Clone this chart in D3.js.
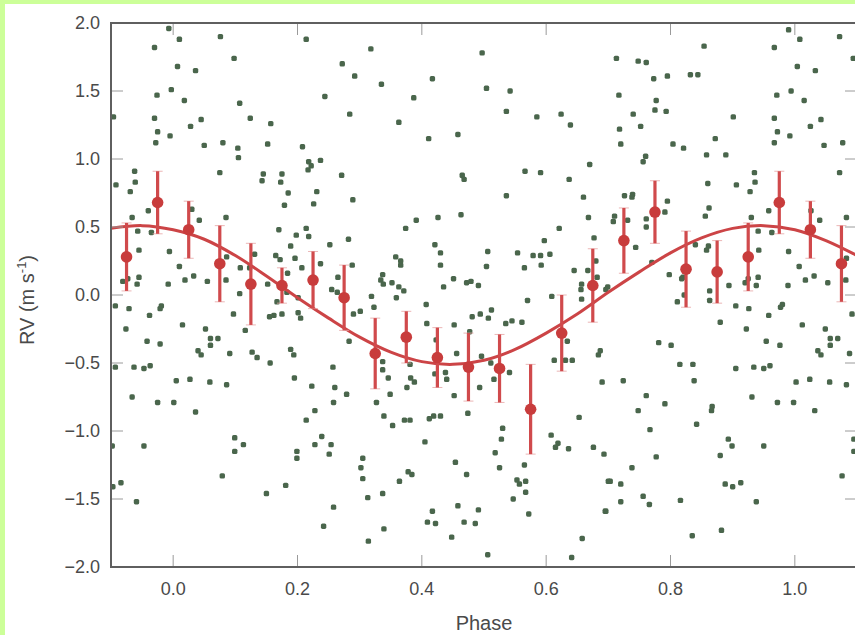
<!DOCTYPE html>
<html>
<head>
<meta charset="utf-8">
<script src="https://cdn.jsdelivr.net/npm/d3@7"></script>
<style>
  body { margin: 0; padding: 0; background: #ccff99; }
</style>
</head>
<body>
<div id="chart"></div>
<script>
var width = 855;
var height = 635;

// raw velocities, [phase, rv]
var rawPoints = [
  [-0.007,1.96],[0.010,1.88],[0.076,1.90],[-0.030,1.82],[0.098,1.74],[0.007,1.68],[0.036,1.65],[0.214,1.88],[0.272,1.70],[0.292,1.61],
  [-0.026,1.47],[-0.003,1.51],[0.018,1.43],[0.107,1.41],[0.244,1.46],[0.284,1.33],[-0.096,1.31],[-0.030,1.30],[0.045,1.29],[0.124,1.30],
  [0.157,1.26],[-0.025,1.20],[-0.005,1.17],[0.028,1.24],[-0.028,1.12],[0.050,1.10],[0.080,1.12],[0.104,1.08],[0.152,1.11],[0.208,1.09],
  [0.105,1.01],[0.218,0.98],[0.222,0.95],[0.237,0.99],[0.217,0.92],[-0.062,0.91],[0.075,0.90],[0.145,0.89],[0.175,0.89],[0.143,0.84],
  [0.173,0.83],[0.271,0.88],[-0.092,0.81],[-0.061,0.83],[-0.069,0.76],[0.185,0.75],[0.231,0.76],[0.289,0.70],[0.179,0.66],[0.226,0.67],
  [-0.040,0.62],[0.030,0.63],[-0.066,0.57],[0.085,0.57],[0.042,0.55],[0.170,0.48],[0.214,0.49],[-0.057,0.47],[-0.035,0.46],[0.198,0.44],
  [0.218,0.43],[0.252,0.37],[0.282,0.41],[0.189,0.36],[-0.055,0.33],[-0.006,0.32],[0.086,0.28],[0.131,0.30],[0.165,0.29],[0.172,0.26],
  [0.196,0.27],[0.237,0.23],[0.010,0.21],[0.108,0.20],[0.123,0.20],[0.207,0.20],[0.288,0.22],[-0.073,0.12],[-0.081,0.10],[-0.055,0.13],
  [-0.058,0.08],[-0.008,0.08],[0.019,0.11],[0.033,0.14],[0.055,0.10],[0.085,0.11],[0.152,0.08],[0.184,0.16],[0.265,0.13],[0.255,0.04],
  [0.264,0.02],[0.183,0.02],
  [0.318,1.81],[0.497,1.78],[0.335,1.55],[0.417,1.59],[0.504,1.52],[0.542,1.50],[0.387,1.45],[0.536,1.35],[0.585,1.31],[0.624,1.33],
  [0.639,1.25],[0.363,1.27],[0.411,1.15],[0.458,1.18],[0.670,0.96],[0.566,0.91],[0.591,0.90],[0.465,0.88],[0.468,0.85],[0.637,0.85],
  [0.536,0.73],[0.660,0.72],[0.391,0.55],[0.426,0.57],[0.463,0.59],[0.374,0.49],[0.668,0.57],[0.621,0.49],[0.677,0.42],[0.597,0.40],
  [0.421,0.37],[0.430,0.31],[0.506,0.32],[0.554,0.31],[0.579,0.29],[0.591,0.29],[0.606,0.30],[0.358,0.28],[0.366,0.25],[0.366,0.22],
  [0.430,0.22],[0.504,0.21],[0.565,0.20],[0.592,0.22],[0.645,0.18],[0.667,0.18],[0.680,0.25],[0.682,0.13],[0.337,0.15],[0.334,0.11],
  [0.338,0.08],[0.352,0.09],[0.363,0.06],[0.371,0.03],[0.435,0.06],[0.451,0.12],[0.472,0.09],[0.479,0.10],[0.491,0.07],[0.657,0.08],
  [0.656,0.04],
  [0.990,1.95],[1.008,1.88],[1.072,1.90],[0.854,1.83],[0.967,1.82],[1.094,1.74],[0.713,1.74],[0.748,1.72],[0.761,1.71],[1.004,1.68],
  [1.033,1.65],[0.773,1.59],[0.795,1.61],[0.832,1.62],[0.844,1.62],[0.717,1.47],[0.777,1.43],[0.971,1.47],[0.994,1.50],[1.015,1.43],
  [0.740,1.33],[0.775,1.36],[0.793,1.35],[0.901,1.31],[0.967,1.30],[1.042,1.29],[0.718,1.22],[0.752,1.24],[0.972,1.20],[0.992,1.17],
  [1.025,1.24],[0.872,1.15],[0.720,1.11],[0.804,1.11],[0.821,1.08],[0.967,1.12],[1.047,1.10],[1.077,1.12],[0.858,1.03],[0.889,1.03],
  [0.760,1.02],[0.756,0.98],[0.935,0.90],[1.072,0.90],[0.936,0.83],[0.860,0.82],[0.906,0.81],[0.928,0.76],[0.726,0.73],[0.739,0.74],
  [0.738,0.72],[0.795,0.69],[0.862,0.64],[0.710,0.58],[0.708,0.54],[0.731,0.55],[0.761,0.56],[0.761,0.50],[0.791,0.61],[0.856,0.58],
  [0.930,0.57],[0.958,0.62],[1.040,0.55],[1.083,0.57],[1.026,0.62],[0.941,0.47],[0.963,0.46],[0.744,0.35],[0.840,0.37],[0.858,0.33],
  [0.861,0.36],[0.942,0.33],[0.990,0.32],[0.770,0.24],[0.798,0.15],[0.820,0.13],[0.818,0.12],[1.007,0.21],[1.083,0.27],[1.031,0.14],
  [1.017,0.11],[1.053,0.09],[1.082,0.11],[0.894,0.07],[0.925,0.12],[0.941,0.13],[0.920,0.09],[0.938,0.07],[0.989,0.07],[0.863,0.03],
  [0.699,0.06],[0.696,0.04],
  [-0.093,-0.08],[-0.071,-0.10],[-0.038,-0.15],[-0.019,-0.08],[-0.021,-0.10],[-0.076,-0.25],[0.015,-0.22],[0.052,-0.25],[-0.042,-0.34],[-0.021,-0.36],
  [0.060,-0.32],[0.072,-0.32],[0.060,-0.37],[0.097,-0.14],[0.107,0.01],[0.116,-0.26],[0.040,-0.41],[0.045,-0.44],[0.091,-0.43],[0.127,-0.42],
  [0.135,-0.46],[0.156,-0.50],[0.155,-0.16],[0.162,-0.15],[0.175,-0.14],[0.167,-0.05],[0.201,-0.13],[0.205,-0.17],[0.201,-0.02],[0.189,-0.40],
  [0.194,-0.44],[0.290,-0.14],[0.283,-0.34],[-0.093,-0.53],[-0.063,-0.53],[-0.047,-0.54],[-0.037,-0.52],[0.195,-0.61],[0.257,-0.53],[0.005,-0.63],
  [0.027,-0.62],[0.059,-0.64],[0.086,-0.66],[0.223,-0.67],[0.260,-0.68],[0.279,-0.73],[-0.066,-0.75],[-0.025,-0.79],[0.001,-0.79],[0.036,-0.86],
  [0.258,-0.79],[0.228,-0.85],[0.214,-0.92],[-0.098,-1.11],[-0.047,-1.11],[0.099,-1.05],[0.113,-1.10],[0.099,-1.15],[0.239,-1.04],[0.228,-1.10],
  [0.254,-1.10],[0.251,-1.17],[0.199,-1.15],[0.199,-1.20],[0.079,-1.33],[-0.084,-1.38],[-0.097,-1.41],[-0.059,-1.52],[0.150,-1.46],[0.181,-1.40],
  [0.258,-1.56],[0.242,-1.70],
  [0.319,-0.01],[0.323,-0.09],[0.359,-0.02],[0.301,-0.12],[0.407,-0.07],[0.408,-0.21],[0.452,-0.22],[0.481,-0.16],[0.494,-0.14],[0.507,-0.17],
  [0.512,-0.11],[0.535,-0.21],[0.545,-0.19],[0.561,-0.20],[0.570,-0.04],[0.609,-0.01],[0.657,-0.03],[0.477,-0.27],[0.423,-0.33],[0.456,-0.43],
  [0.496,-0.45],[0.511,-0.50],[0.516,-0.62],[0.541,-0.57],[0.337,-0.49],[0.337,-0.55],[0.346,-0.61],[0.381,-0.51],[0.382,-0.61],[0.388,-0.64],
  [0.376,-0.68],[0.421,-0.58],[0.438,-0.57],[0.440,-0.62],[0.493,-0.68],[0.452,-0.74],[0.327,-0.79],[0.349,-0.73],[0.474,-0.87],[0.339,-0.89],
  [0.372,-0.92],[0.381,-0.92],[0.353,-0.96],[0.412,-0.91],[0.419,-0.89],[0.430,-0.89],[0.405,-1.08],[0.530,-0.98],[0.528,-1.06],[0.518,-1.16],
  [0.525,-1.27],[0.613,-0.48],[0.631,-0.48],[0.642,-0.48],[0.634,-0.34],[0.684,-0.44],[0.687,-0.41],[0.690,-0.64],[0.653,-0.90],[0.608,-1.03],
  [0.619,-1.09],[0.615,-1.12],[0.636,-1.13],[0.676,-1.12],[0.693,-1.17],[0.305,-1.20],[0.302,-1.27],[0.305,-1.35],[0.313,-1.49],[0.337,-1.46],
  [0.364,-1.37],[0.378,-1.30],[0.384,-1.32],[0.454,-1.23],[0.472,-1.32],[0.565,-1.25],[0.553,-1.36],[0.557,-1.39],[0.567,-1.37],[0.567,-1.45],
  [0.547,-1.50],[0.572,-1.61],[0.458,-1.55],[0.491,-1.58],[0.417,-1.59],[0.409,-1.67],[0.422,-1.68],[0.468,-1.67],[0.486,-1.68],[0.339,-1.72],
  [0.314,-1.81],[0.448,-1.78],[0.506,-1.91],[0.641,-1.93],[0.658,-1.79],[0.700,-1.37],[0.695,-1.59],
  [0.811,-0.05],[0.822,-0.00],[0.863,-0.04],[0.905,-0.08],[0.926,-0.10],[0.958,-0.15],[0.977,-0.09],[0.980,-0.07],[0.880,-0.20],[0.922,-0.25],
  [1.012,-0.22],[1.049,-0.25],[1.057,-0.32],[1.069,-0.32],[1.057,-0.37],[1.092,-0.14],[0.781,-0.35],[0.801,-0.37],[0.954,-0.34],[0.976,-0.37],
  [1.037,-0.41],[1.042,-0.44],[1.088,-0.43],[0.815,-0.51],[0.836,-0.51],[0.905,-0.54],[0.934,-0.53],[0.950,-0.54],[0.960,-0.52],[0.724,-0.63],
  [0.838,-0.63],[1.002,-0.64],[1.024,-0.62],[1.056,-0.64],[1.083,-0.66],[0.761,-0.74],[0.791,-0.80],[0.748,-0.85],[0.867,-0.82],[0.866,-0.85],
  [0.931,-0.75],[0.972,-0.79],[0.998,-0.79],[1.032,-0.85],[0.767,-0.99],[0.842,-0.95],[0.893,-1.06],[0.899,-1.11],[0.950,-1.11],[0.880,-1.18],
  [0.777,-1.19],[0.738,-1.27],[0.703,-1.37],[0.720,-1.39],[0.888,-1.39],[0.900,-1.41],[0.913,-1.38],[0.756,-1.48],[0.720,-1.52],[0.766,-1.54],
  [0.816,-1.51],[0.938,-1.52],[0.882,-1.73],[0.835,-1.77],[1.076,-1.33],[1.095,-1.06],[1.095,-1.15],[0.696,-1.59]
];

// binned velocities
var binPhase = [-0.075, -0.025, 0.025, 0.075, 0.125, 0.175, 0.225, 0.275, 0.325, 0.375, 0.425, 0.475,
                0.525, 0.575, 0.625, 0.675, 0.725, 0.775, 0.825, 0.875, 0.925, 0.975, 1.025, 1.075];
var binRV = [0.28, 0.68, 0.48, 0.23, 0.08, 0.07, 0.11, -0.02, -0.43, -0.31, -0.46, -0.53,
             -0.54, -0.84, -0.28, 0.07, 0.40, 0.61, 0.19, 0.17, 0.28, 0.68, 0.48, 0.23];
var binErr = [0.25, 0.23, 0.21, 0.28, 0.30, 0.13, 0.21, 0.24, 0.26, 0.19, 0.22, 0.25,
              0.25, 0.33, 0.28, 0.27, 0.24, 0.23, 0.28, 0.23, 0.25, 0.23, 0.21, 0.28];

// fitted curve
var curvePhase = [-0.10, -0.05, 0.00, 0.05, 0.10, 0.15, 0.20, 0.25, 0.30, 0.35, 0.40, 0.45, 0.50,
                  0.55, 0.60, 0.65, 0.70, 0.75, 0.80, 0.85, 0.90, 0.95, 1.00, 1.05, 1.10];
var curveRV = [0.49, 0.51, 0.48, 0.41, 0.29, 0.14, -0.02, -0.17, -0.31, -0.42, -0.49, -0.51, -0.48,
               -0.40, -0.28, -0.14, 0.02, 0.17, 0.31, 0.42, 0.49, 0.51, 0.48, 0.40, 0.29];

var xTicks = [0.0, 0.2, 0.4, 0.6, 0.8, 1.0];
var yTicks = [-2.0, -1.5, -1.0, -0.5, 0.0, 0.5, 1.0, 1.5, 2.0];

var margin = { left: 111, top: 23, right: -2, bottom: 68 };

var svg = d3.select("#chart")
    .append("svg")
    .attr("width", width)
    .attr("height", height)
    .style("display", "block")

svg.append("rect")
    .attr("x", 0).attr("y", 0)
    .attr("width", width).attr("height", height)
    .attr("fill", "#ccff99")

svg.append("rect")
    .attr("x", 5).attr("y", 4)
    .attr("width", width - 5).attr("height", height - 4)
    .attr("fill", "#ffffff")

var x = d3.scaleLinear()
    .domain([-0.1, 1.1])
    .range([margin.left, width - margin.right]);

var y = d3.scaleLinear()
    .domain([-2, 2])
    .range([height - margin.bottom, margin.top]);

svg.append("clipPath")
    .attr("id", "plotclip")
    .append("rect")
    .attr("x", x(-0.1)).attr("y", y(2))
    .attr("width", x(1.1) - x(-0.1)).attr("height", y(-2) - y(2))

var plot = svg.append("g").attr("clip-path", "url(#plotclip)")

//----------------------------- raw points
plot.selectAll("rect.raw")
    .data(rawPoints)
    .enter()
    .append("rect")
    .attr("class", "raw")
    .attr("x", function (d) { return x(d[0]) - 2.7; })
    .attr("y", function (d) { return y(d[1]) - 2.7; })
    .attr("width", 5.4)
    .attr("height", 5.4)
    .attr("rx", 1.6)
    .attr("fill", "#4a664c")

//----------------------------- curve
var lineGenerator = d3.line()
    .x(function (d, i) { return x(curvePhase[i]); })
    .y(function (d) { return y(d); })
    .curve(d3.curveCardinal);

plot.append("path")
    .attr("d", lineGenerator(curveRV))
    .attr("fill", "none")
    .attr("stroke", "#cc4446")
    .attr("stroke-width", 3)

//----------------------------- binned points
var bins = plot.selectAll("g.bin")
    .data(binPhase)
    .enter()
    .append("g")
    .attr("class", "bin")

bins.selectAll("line.cap")
    .data(function (d, i) { return [[d, binRV[i] + binErr[i]], [d, binRV[i] - binErr[i]]]; })
    .enter()
    .append("line")
    .attr("class", "cap")
    .attr("x1", function (d) { return x(d[0]) - 5; })
    .attr("x2", function (d) { return x(d[0]) + 5; })
    .attr("y1", function (d) { return y(d[1]); })
    .attr("y2", function (d) { return y(d[1]); })
    .attr("stroke", "#e6a3a3")
    .attr("stroke-width", 0.8)

bins.append("line")
    .attr("x1", function (d) { return x(d); })
    .attr("x2", function (d) { return x(d); })
    .attr("y1", function (d, i) { return y(binRV[i] + binErr[i]); })
    .attr("y2", function (d, i) { return y(binRV[i] - binErr[i]); })
    .attr("stroke", "#d04a4c")
    .attr("stroke-width", 3.2)

bins.append("circle")
    .attr("cx", function (d) { return x(d); })
    .attr("cy", function (d, i) { return y(binRV[i]); })
    .attr("r", 5.8)
    .attr("fill", "#c83c3c")

//----------------------------- frame and ticks
var tickColor = "#9a9a9a";
var tickLen = 12;

var ticks = svg.append("g")

xTicks.forEach(function (t) {
    ticks.append("line")
        .attr("x1", x(t)).attr("x2", x(t))
        .attr("y1", y(-2)).attr("y2", y(-2) - tickLen)
        .attr("stroke", tickColor).attr("stroke-width", 1)
    ticks.append("line")
        .attr("x1", x(t)).attr("x2", x(t))
        .attr("y1", y(2)).attr("y2", y(2) + tickLen)
        .attr("stroke", tickColor).attr("stroke-width", 1)
})

yTicks.forEach(function (t) {
    ticks.append("line")
        .attr("x1", x(-0.1)).attr("x2", x(-0.1) + tickLen)
        .attr("y1", y(t)).attr("y2", y(t))
        .attr("stroke", tickColor).attr("stroke-width", 1)
    ticks.append("line")
        .attr("x1", x(1.1)).attr("x2", x(1.1) - tickLen)
        .attr("y1", y(t)).attr("y2", y(t))
        .attr("stroke", tickColor).attr("stroke-width", 1)
})

svg.append("rect")
    .attr("x", x(-0.1)).attr("y", y(2))
    .attr("width", x(1.1) - x(-0.1)).attr("height", y(-2) - y(2))
    .attr("fill", "none")
    .attr("stroke", "#5f5f5f")
    .attr("stroke-width", 2)

var fmt = d3.format(".1f");
var fontFam = "Liberation Sans, Arial, sans-serif";

svg.selectAll("text.xtick")
    .data(xTicks)
    .enter()
    .append("text")
    .attr("class", "xtick")
    .attr("x", function (d) { return x(d); })
    .attr("y", 595)
    .text(function (d) { return fmt(d); })
    .attr("font-family", fontFam)
    .attr("font-size", 18)
    .attr("text-anchor", "middle")
    .style("fill", "#4a4a4a")

svg.selectAll("text.ytick")
    .data(yTicks)
    .enter()
    .append("text")
    .attr("class", "ytick")
    .attr("x", 100)
    .attr("y", function (d) { return y(d) + 6; })
    .text(function (d) { return fmt(d); })
    .attr("font-family", fontFam)
    .attr("font-size", 18)
    .attr("text-anchor", "end")
    .style("fill", "#4a4a4a")

svg.append("text")
    .attr("x", x(0.5))
    .attr("y", 630)
    .text("Phase")
    .attr("font-family", fontFam)
    .attr("font-size", 20)
    .attr("text-anchor", "middle")
    .style("fill", "#4a4a4a")

var ylab = svg.append("text")
    .attr("transform", "translate(34,300) rotate(-90)")
    .attr("font-family", fontFam)
    .attr("font-size", 20)
    .attr("text-anchor", "middle")
    .style("fill", "#4a4a4a")

ylab.append("tspan").text("RV (m s")
ylab.append("tspan").text("-1").attr("font-size", 13).attr("dy", -8)
ylab.append("tspan").text(")").attr("dy", 8)
</script>
</body>
</html>
